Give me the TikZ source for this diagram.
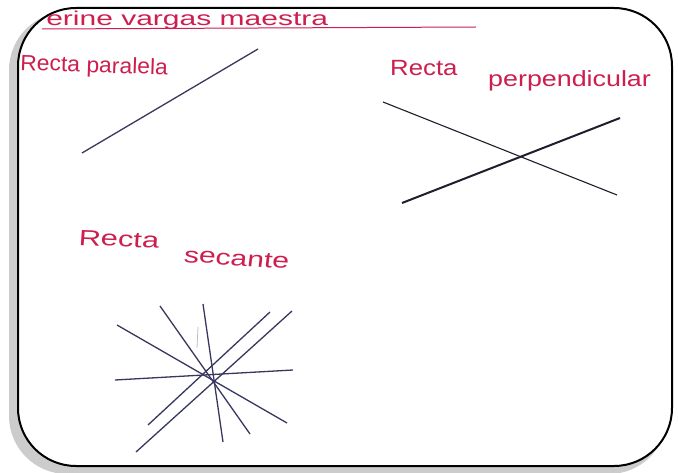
\documentclass[tikz,border=0pt]{standalone}
\usepackage{fontspec}
\setmainfont{Liberation Sans}
\definecolor{inkred}{RGB}{205, 30, 80}
\definecolor{inkblue}{RGB}{55, 55, 95}
\definecolor{inkdark}{RGB}{30, 30, 45}

\begin{document}
\begin{tikzpicture}[x=1pt, y=-1pt,
    handtext/.style={font=\fontsize{22}{24}\selectfont, text=inkred, anchor=base west, inner sep=0pt}]
  \useasboundingbox (0,0) rectangle (678,473);

  % Frame with shadow
  \fill[black!40, rounded corners=58pt] (12,15) rectangle (667,471);
  \fill[black!20, rounded corners=58pt] (9,12) rectangle (667,474);
  \draw[line width=2pt, fill=white, rounded corners=58pt] (18,8) rectangle (672,466);

  % Title
  \node[handtext, font=\fontsize{20}{22}\selectfont, xscale=1.5] (title) at (46,26) {erine vargas maestra};
  \draw[inkred, line width=1pt] (42,29) -- (476,27);

  % Parallel line
  \node[handtext, xscale=1.04, rotate=-2] (parlabel) at (20,70) {Recta paralela};
  \coordinate (parA) at (82,153);
  \coordinate (parB) at (258,49);
  \draw[inkblue, line width=1.3pt] (parA) -- (parB);

  % Perpendicular lines
  \node[handtext, xscale=1.17] (perlabel) at (390,76) {Recta};
  \node[handtext, xscale=1.22] (perlabelb) at (488,87) {perpendicular};
  \coordinate (perA) at (383,102);
  \coordinate (perB) at (617,195);
  \coordinate (perC) at (402,203);
  \coordinate (perD) at (620,118);
  \draw[inkdark, line width=1.1pt] (perA) -- (perB);
  \draw[inkdark, line width=2pt] (perC) -- (perD);

  % Secant lines
  \node[handtext, xscale=1.4, rotate=-3] (seclabel) at (78,245) {Recta};
  \node[handtext, xscale=1.37, rotate=-5] (seclabelb) at (183,262) {secante};
  \draw[black!25, line width=0.8pt] (198,327) -- (197,348);
  \foreach \a/\b in {{(117,325)}/{(287,423)}, {(160,306)}/{(250,434)}, {(203,304)}/{(223,442)},
                     {(270,312)}/{(148,425)}, {(292,311)}/{(136,452)}, {(115,380)}/{(293,370)}}
    \draw[inkblue, line width=1.3pt] \a -- \b;
\end{tikzpicture}
\end{document}
